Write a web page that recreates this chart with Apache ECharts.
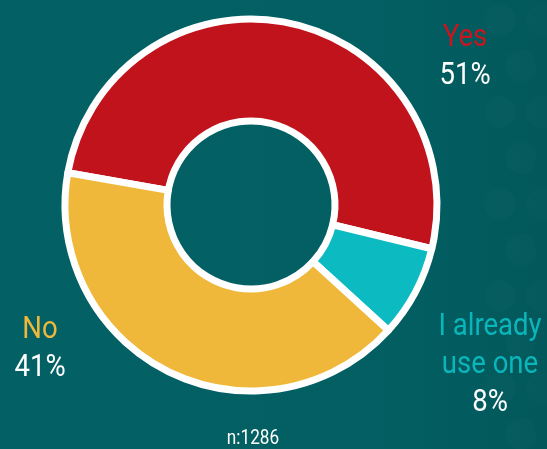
<!DOCTYPE html>
<html>
<head>
<meta charset="utf-8">
<script src="https://cdn.jsdelivr.net/npm/echarts@6/dist/echarts.min.js"></script>
<style>
  html, body { margin: 0; padding: 0; background: #025d60; }
  #chart { width: 547px; height: 449px; }
</style>
</head>
<body>
<div id="chart"></div>
<script>
// Survey answers (share of respondents, %)
const categories = ['Yes', 'I already\nuse one', 'No'];
const shares = [51, 8, 41];
const sliceColors = ['#c1131c', '#0bbbc1', '#efb83a'];
const nameColors = ['#c8151f', '#0ab6bb', '#efb83a'];
const sampleNote = 'n:1286';

const FONT = 'Roboto, "DejaVu Sans Condensed", sans-serif';
const NARROW = 0.86;      // horizontal squeeze for a condensed look
const LINE = 38;

// Anchor (centre x, top of first line) for each answer's caption
const labelSpots = [
  { x: 465, y: 22 },
  { x: 490, y: 311 },
  { x: 40, y: 314 }
];

const chart = echarts.init(document.getElementById('chart'));

// Faint dots on the right side of the backdrop
const dots = [];
for (let row = 0; row < 10; row++) {
  for (let col = 0; col < 2; col++) {
    dots.push({
      type: 'circle',
      silent: true,
      z: -10,
      shape: { cx: 500 + col * 42 + (row % 2) * 21, cy: 20 + row * 46, r: 16 },
      style: { fill: 'rgba(255,255,255,0.014)' }
    });
  }
}

// Captions: answer name(s) in the slice colour, share in white
const captions = categories.map((c, i) => {
  const lines = c.split('\n');
  const children = lines.map((ln, k) => ({
    type: 'text',
    x: 0, y: k * LINE,
    style: {
      text: ln, fill: nameColors[i], font: '32px ' + FONT,
      align: 'center', verticalAlign: 'top'
    }
  }));
  children.push({
    type: 'text',
    x: 0, y: lines.length * LINE,
    style: {
      text: shares[i] + '%', fill: '#ffffff', font: '32px ' + FONT,
      align: 'center', verticalAlign: 'top'
    }
  });
  return {
    type: 'group',
    x: labelSpots[i].x, y: labelSpots[i].y,
    scaleX: NARROW,
    silent: true,
    children
  };
});

chart.setOption({
  backgroundColor: {
    type: 'linear', x: 0, y: 0, x2: 1, y2: 0,
    colorStops: [
      { offset: 0, color: '#036165' },
      { offset: 0.75, color: '#025e61' },
      { offset: 1, color: '#03585b' }
    ]
  },
  graphic: dots.concat(captions, [{
    type: 'group',
    x: 253, y: 429,
    scaleX: NARROW,
    silent: true,
    children: [{
      type: 'text',
      style: {
        text: sampleNote, fill: '#ffffff', font: '20px ' + FONT,
        align: 'center', verticalAlign: 'top'
      }
    }]
  }]),
  series: [{
    type: 'pie',
    center: [251, 205],
    radius: [84, 186],
    startAngle: 170,
    clockwise: true,
    itemStyle: { borderColor: '#ffffff', borderWidth: 7 },
    emphasis: { disabled: true },
    label: { show: false },
    labelLine: { show: false },
    data: categories.map((c, i) => ({
      name: c,
      value: shares[i],
      itemStyle: { color: sliceColors[i] }
    }))
  }]
});
</script>
</body>
</html>
